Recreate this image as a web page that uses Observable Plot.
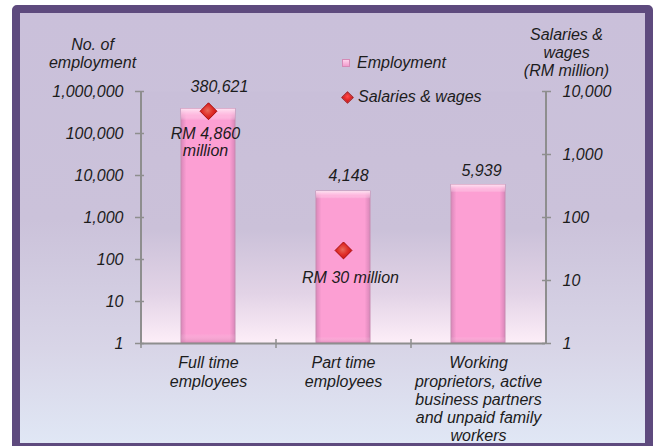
<!DOCTYPE html>
<html>
<head>
<meta charset="utf-8">
<script src="https://cdn.jsdelivr.net/npm/d3@7"></script>
<script src="https://cdn.jsdelivr.net/npm/@observablehq/plot@0.6"></script>
<style>
  html, body { margin: 0; padding: 0; width: 655px; height: 446px; overflow: hidden; background: #ffffff; }
  #panel {
    position: absolute; left: 12px; top: 5px; width: 625px; height: 430px;
    border: 8px solid #5e4a7e; border-radius: 5px;
    background: linear-gradient(to bottom, #cac0da 0%, #cbc2da 48%, #d8d5e7 78%, #e0e7f5 100%);
  }
  #chart { position: absolute; left: 0; top: 0; }
  #chart svg text { font-style: italic !important; font-family: "Liberation Sans", Arial, sans-serif !important; }
  .legend { position: absolute; left: 342px; font-family: "Liberation Sans", Arial, sans-serif; font-style: italic; font-size: 16px; color: #1c1c1c; display: flex; align-items: center; }
  .sw-bar { width: 8px; height: 8px; margin-right: 7px; background: linear-gradient(to bottom, #ffd2ec, #f29ccd); border: 1px solid #d58ab6; box-sizing: border-box; }
  .sw-dia { width: 9px; height: 9px; margin: 0 6px 0 1px; transform: rotate(45deg); background: radial-gradient(circle at 40% 40%, #ff4a4a, #d40d0d); border: 1px solid #a80f0f; box-sizing: border-box; }
</style>
</head>
<body>
<svg width="0" height="0" style="position:absolute">
  <defs>
    <linearGradient id="plotGrad" x1="0" y1="0" x2="0" y2="1">
      <stop offset="0" stop-color="#c9bfd9"/>
      <stop offset="0.55" stop-color="#cbc1d9"/>
      <stop offset="0.8" stop-color="#e2d3e6"/>
      <stop offset="1" stop-color="#fdeef8"/>
    </linearGradient>
    <linearGradient id="barGrad" x1="0" y1="0" x2="1" y2="0">
      <stop offset="0" stop-color="#d987b9"/>
      <stop offset="0.1" stop-color="#fc9fd3"/>
      <stop offset="0.9" stop-color="#fc9fd3"/>
      <stop offset="1" stop-color="#d987b9"/>
    </linearGradient>
    <linearGradient id="barTop" x1="0" y1="0" x2="0" y2="1">
      <stop offset="0" stop-color="#ffe6f4" stop-opacity="0.95"/>
      <stop offset="0.03" stop-color="#ffc4e4" stop-opacity="0.6"/>
      <stop offset="0.05" stop-color="#ffffff" stop-opacity="0"/>
      <stop offset="0.96" stop-color="#ffffff" stop-opacity="0"/>
      <stop offset="1" stop-color="#c66f9f" stop-opacity="0.5"/>
    </linearGradient>
    <radialGradient id="diaGrad" cx="0.45" cy="0.45" r="0.6">
      <stop offset="0" stop-color="#e86a5a"/>
      <stop offset="0.5" stop-color="#e0302a"/>
      <stop offset="1" stop-color="#c80f10"/>
    </radialGradient>
  </defs>
</svg>
<div id="panel"></div>
<div id="chart"></div>
<div class="legend" id="lg0" style="top:54px"><span class="sw-bar"></span><span id="lt0"></span></div>
<div class="legend" id="lg1" style="top:88px"><span class="sw-dia"></span><span id="lt1"></span></div>
<script>
// ---- data ----
const categories = ["Full time employees", "Part time employees", "Working proprietors, active business partners and unpaid family workers"];
const categoryLabels = ["Full time\nemployees", "Part time\nemployees", "Working\nproprietors, active\nbusiness partners\nand unpaid family\nworkers"];
const employment = [380621, 4148, 5939];
const salaries = [4860, 30, null];           // RM million
const leftTicks = [1, 10, 100, 1000, 10000, 100000, 1000000];
const rightTicks = [1, 10, 100, 1000, 10000];
const seriesNames = ["Employment", "Salaries & wages"];
const leftTitle = "No. of\nemployment";
const rightTitle = "Salaries &\nwages\n(RM million)";

// ---- build ----
const data = categories.map((c, i) => ({category: c, label: categoryLabels[i], employment: employment[i], salaries: salaries[i]}));
const fmt = d3.format(",");
// map right (1..10,000) log axis onto left (1..1,000,000) log scale
const k = Math.log(leftTicks[leftTicks.length - 1]) / Math.log(rightTicks[rightTicks.length - 1]);
const labelOf = new Map(data.map(d => [d.category, d.label]));

const W = 655, H = 446, mL = 140, mR = 110, mT = 91, mB = 103;
const step = (W - mL - mR) / categories.length;
const axisColor = "#8e8e8e";
const textColor = "#1c1c1c";
// label nudges (dx, dy) per category
const empLabelOffset = [[11, -22], [5, -16], [3, -14]];
const salLabelOffset = [[-3, 15], [7, 20], [0, 0]];

document.getElementById("lt0").textContent = seriesNames[0];
document.getElementById("lt1").textContent = seriesNames[1];

const empLabels = data.map((d, i) => Plot.text([d], {x: "category", y: "employment", text: d => fmt(d.employment), dx: empLabelOffset[i][0], dy: empLabelOffset[i][1], fill: textColor}));
const salLabels = data.map((d, i) => d.salaries == null ? null : Plot.text([d], {x: "category", y: d => Math.pow(d.salaries, k), text: d => `RM ${fmt(d.salaries)} million`, lineWidth: 6.8, lineAnchor: "top", textAnchor: "middle", dx: salLabelOffset[i][0], dy: salLabelOffset[i][1], lineHeight: 1.1, fill: textColor}));

const chart = Plot.plot({
  width: W, height: H,
  marginLeft: mL, marginRight: mR, marginTop: mT, marginBottom: mB,
  style: {background: "transparent", fontFamily: "'Liberation Sans', Arial, sans-serif", fontStyle: "italic", fontSize: "16px", color: textColor, overflow: "visible"},
  x: {domain: categories, paddingInner: 0.6, paddingOuter: 0.3, axis: null},
  y: {type: "log", domain: [1, 1000000], axis: null},
  marks: [
    Plot.frame({fill: "url(#plotGrad)", stroke: "none"}),
    // axis lines
    Plot.ruleX([categories[0]], {dx: -step / 2, y1: 1, y2: 1000000, stroke: axisColor, strokeWidth: 2}),
    Plot.ruleX([categories[categories.length - 1]], {dx: step / 2, y1: 1, y2: 1000000, stroke: axisColor, strokeWidth: 2}),
    // bars
    Plot.barY(data, {x: "category", y1: 1, y2: "employment", fill: "url(#barGrad)", stroke: "#c98bb2", strokeWidth: 1}),
    Plot.barY(data, {x: "category", y1: 1, y2: "employment", fill: "url(#barTop)"}),
    Plot.ruleY([1], {stroke: axisColor, strokeWidth: 2}),
    // left axis
    Plot.axisY({anchor: "left", ticks: leftTicks, tickFormat: d => fmt(d), tickSize: 9, dx: 4, tickPadding: 12, stroke: axisColor, strokeWidth: 1.5, fill: textColor, label: null}),
    // right axis (ticks + labels)
    Plot.axisY({anchor: "right", ticks: rightTicks.map(v => Math.pow(v, k)), tickFormat: () => "", tickSize: 9, dx: -4, stroke: axisColor, strokeWidth: 1.5, label: null}),
    Plot.text(rightTicks, {y: v => Math.pow(v, k), text: v => fmt(v), frameAnchor: "right", textAnchor: "start", dx: 17, fill: textColor}),
    // category boundary ticks
    Plot.axisX({ticks: categories, tickSize: 9, dy: -4, dx: -step / 2, tickFormat: () => "", stroke: axisColor, strokeWidth: 1.5, label: null}),
    // category labels
    Plot.axisX({ticks: categories, tickSize: 0, tickPadding: 12, tickFormat: d => labelOf.get(d), lineHeight: 1.14, fill: textColor, label: null}),
    // bars' value labels
    ...empLabels,
    // salaries diamonds
    Plot.dot(data.filter(d => d.salaries != null), {x: "category", y: d => Math.pow(d.salaries, k), symbol: "diamond2", r: 7.6, fill: "url(#diaGrad)", stroke: "#a80f0f", strokeWidth: 1}),
    ...salLabels.filter(Boolean),
    // axis titles
    Plot.text([leftTitle], {frameAnchor: "top-left", text: d => d, lineAnchor: "bottom", textAnchor: "middle", dx: -48, dy: -24, lineHeight: 1.12, fill: textColor}),
    Plot.text([rightTitle], {frameAnchor: "top-right", text: d => d, lineAnchor: "bottom", textAnchor: "middle", dx: 21, dy: -16, lineHeight: 1.12, fill: textColor})
  ].filter(Boolean)
});
document.getElementById("chart").appendChild(chart);
</script>
</body>
</html>
